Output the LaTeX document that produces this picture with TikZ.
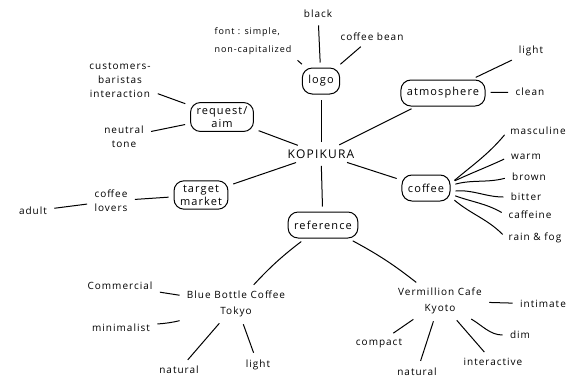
\documentclass[tikz,border=0pt]{standalone}
\usepackage{fontspec}
\setmainfont{Open Sans}[LetterSpace=10]
\usepackage{tikz}
\usetikzlibrary{positioning}

\begin{document}
\begin{tikzpicture}[x=1pt, y=-1pt, line width=1pt,
	hub/.style={inner sep=2pt, font=\fontsize{12}{14}\selectfont},
	topic/.style={draw, rounded corners=10pt, inner xsep=6pt, inner ysep=4pt, minimum height=26pt, align=center, font=\fontsize{11}{13}\selectfont},
	leaf/.style={inner sep=2pt, align=center, font=\fontsize{10}{14}\selectfont},
	link/.style={shorten <=5pt, shorten >=5pt}]
	\useasboundingbox (0,0) rectangle (574,381);
	\node[hub] (kopikura) at (321,154) {KOPIKURA};
	\node[topic] (logo) at (321,81) {logo};
	\node[leaf] (black) at (318,14) {black};
	\node[leaf] (bean) at (372,37) {coffee bean};
	\node[leaf, align=left, font=\fontsize{9}{18}\selectfont] (fonttype) at (253,41) {font : simple,\\non-capitalized};
	\node[topic] (atmos) at (443,93) {atmosphere};
	\node[leaf] (light) at (531,51) {light};
	\node[leaf] (clean) at (530,92) {clean};
	\node[topic] (request) at (222,117) {request/\\aim};
	\node[leaf] (customers) at (120,80) {customers-\\baristas\\interaction};
	\node[leaf] (neutral) at (124,137) {neutral\\tone};
	\node[topic] (target) at (201,195) {target\\market};
	\node[leaf] (lovers) at (111,201) {coffee\\lovers};
	\node[leaf] (adult) at (33,211) {adult};
	\node[topic] (coffee) at (426,188) {coffee};
	\node[leaf] (masculine) at (538,131) {masculine};
	\node[leaf] (warm) at (526,157) {warm};
	\node[leaf] (brown) at (529,177) {brown};
	\node[leaf] (bitter) at (526,197) {bitter};
	\node[leaf] (caffeine) at (530,215) {caffeine};
	\node[leaf] (rainfog) at (535,238) {rain \& fog};
	\node[topic] (reference) at (323,225) {reference};
	\node[leaf, font=\fontsize{10}{16}\selectfont] (bluebottle) at (236,304) {Blue Bottle Coffee\\Tokyo};
	\node[leaf] (commercial) at (120,286) {Commercial};
	\node[leaf] (minimalist) at (121,328) {minimalist};
	\node[leaf] (natural) at (179,370) {natural};
	\node[leaf] (lightb) at (258,365) {light};
	\node[leaf, font=\fontsize{10}{16}\selectfont] (vermillion) at (440,301) {Vermillion Cafe\\Kyoto};
	\node[leaf] (intimate) at (543,304) {intimate};
	\node[leaf] (dim) at (520,335) {dim};
	\node[leaf] (interactive) at (493,362) {interactive};
	\node[leaf] (naturalv) at (417,372) {natural};
	\node[leaf] (compact) at (379,343) {compact};
	\draw[link] (kopikura) to (logo);
	\draw[link] (logo) to (black);
	\draw[link] (logo) to (bean);
	\draw[link] (logo) to (fonttype.south east);
	\draw[link] (kopikura) to (atmos);
	\draw[link] (atmos) to (light);
	\draw[link] (atmos) to (clean);
	\draw[link] (kopikura) to (request);
	\draw[link] (request) to (customers);
	\draw[link] (request) to (neutral);
	\draw[link] (kopikura) to (target);
	\draw[link] (target) to (lovers);
	\draw[link] (lovers) to (adult);
	\draw[link] (kopikura) to (coffee);
	\draw[link] (coffee.10) to[out=40, in=230] (masculine.west);
	\draw[link] (coffee.12) to[out=25, in=205] (warm.west);
	\draw[link] (coffee.6) to[out=15, in=195] (brown.west);
	\draw[link] (coffee.-8) to[out=5, in=180] (bitter.west);
	\draw[link] (coffee.-14) to[out=-20, in=150] (caffeine.west);
	\draw[link] (coffee.-20) to[out=-40, in=135] (rainfog.west);
	\draw[link] (kopikura) to (reference);
	\draw[link] (reference) to[bend right=5] (bluebottle);
	\draw[link] (reference) to[bend left=5] (vermillion);
	\draw[link] (bluebottle) to (commercial);
	\draw[link] (bluebottle) to[bend left=5] (minimalist);
	\draw[link] (bluebottle) to (natural);
	\draw[link] (bluebottle) to (lightb);
	\draw[link] (vermillion) to (intimate);
	\draw[link] (vermillion) to[out=-30, in=180] (dim);
	\draw[link] (vermillion) to (interactive);
	\draw[link] (vermillion) to (naturalv);
	\draw[link] (vermillion) to (compact);
\end{tikzpicture}
\end{document}
